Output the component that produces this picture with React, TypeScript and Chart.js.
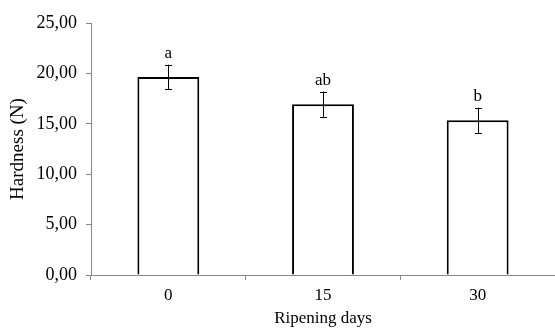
import React, { useEffect, useRef } from "react";
import { Chart, registerables } from "chart.js";

Chart.register(...registerables);

const categories = ["0", "15", "30"];
const hardness = [19.65, 16.95, 15.35];
const errors = [1.22, 1.25, 1.25];
const letters = ["a", "ab", "b"];
const yTickValues = [0, 5, 10, 15, 20, 25];

const FONT = "'Liberation Serif', 'Times New Roman', serif";

const errorBarPlugin = {
  id: "errorBars",
  afterDatasetsDraw(chart: any) {
    const ctx = chart.ctx;
    const meta = chart.getDatasetMeta(0);
    const y = chart.scales.y;
    ctx.save();
    meta.data.forEach((bar: any, i: number) => {
      const x = bar.x;
      const top = y.getPixelForValue(hardness[i] + errors[i]);
      const bot = y.getPixelForValue(hardness[i] - errors[i]);
      ctx.strokeStyle = "#000";
      ctx.lineWidth = 1;
      ctx.beginPath();
      ctx.moveTo(Math.round(x) + 0.5, top);
      ctx.lineTo(Math.round(x) + 0.5, bot);
      ctx.moveTo(Math.round(x) - 3, Math.round(top) + 0.5);
      ctx.lineTo(Math.round(x) + 4, Math.round(top) + 0.5);
      ctx.moveTo(Math.round(x) - 3, Math.round(bot) + 0.5);
      ctx.lineTo(Math.round(x) + 4, Math.round(bot) + 0.5);
      ctx.stroke();
      ctx.fillStyle = "#000";
      ctx.font = `17px ${FONT}`;
      ctx.textAlign = "center";
      ctx.textBaseline = "alphabetic";
      ctx.fillText(letters[i], x, top - 7);
    });
    ctx.restore();
  },
};

export default function App() {
  const ref = useRef<HTMLCanvasElement | null>(null);
  useEffect(() => {
    if (!ref.current) return;
    const chart = new Chart(ref.current, {
      type: "bar",
      data: {
        labels: categories,
        datasets: [
          {
            data: hardness,
            backgroundColor: "#fff",
            borderColor: "#000",
            borderWidth: 2,
            barPercentage: 0.4,
            categoryPercentage: 1,
          },
        ],
      },
      options: {
        animation: false,
        responsive: true,
        maintainAspectRatio: false,
        layout: { padding: { top: 23, right: 0, left: 0, bottom: 0 } },
        plugins: { legend: { display: false }, tooltip: { enabled: false } },
        scales: {
          x: {
            z: 1,
            offset: true,
            grid: {
              offset: true,
              drawOnChartArea: false,
              drawTicks: true,
              tickLength: 5,
              color: "#888",
            },
            border: { color: "#888", width: 1 },
            ticks: { color: "#000", font: { family: FONT, size: 17 }, padding: 5 },
            title: {
              display: true,
              text: "Ripening days",
              color: "#000",
              font: { family: FONT, size: 17 },
              padding: { top: 2, bottom: 0 },
            },
            afterFit: (s: any) => {
              s.height = 54;
            },
          },
          y: {
            min: 0,
            max: 25,
            afterBuildTicks: (s: any) => {
              s.ticks = yTickValues.map((v) => ({ value: v }));
            },
            grid: {
              drawOnChartArea: false,
              drawTicks: true,
              tickLength: 5,
              color: "#888",
            },
            border: { color: "#888", width: 1 },
            ticks: {
              color: "#000",
              font: { family: FONT, size: 18 },
              padding: 9,
              callback: (v: any) => Number(v).toFixed(2).replace(".", ","),
            },
            title: {
              display: true,
              text: "Hardness (N)",
              color: "#000",
              font: { family: FONT, size: 19 },
              padding: { top: 7, bottom: 0 },
            },
            afterFit: (s: any) => {
              s.width = 91;
            },
          },
        },
      },
      plugins: [errorBarPlugin],
    });
    return () => chart.destroy();
  }, []);
  return (
    <div style={{ position: "fixed", left: 0, top: 0, width: 555, height: 329, background: "#fff" }}>
      <canvas ref={ref} />
    </div>
  );
}
